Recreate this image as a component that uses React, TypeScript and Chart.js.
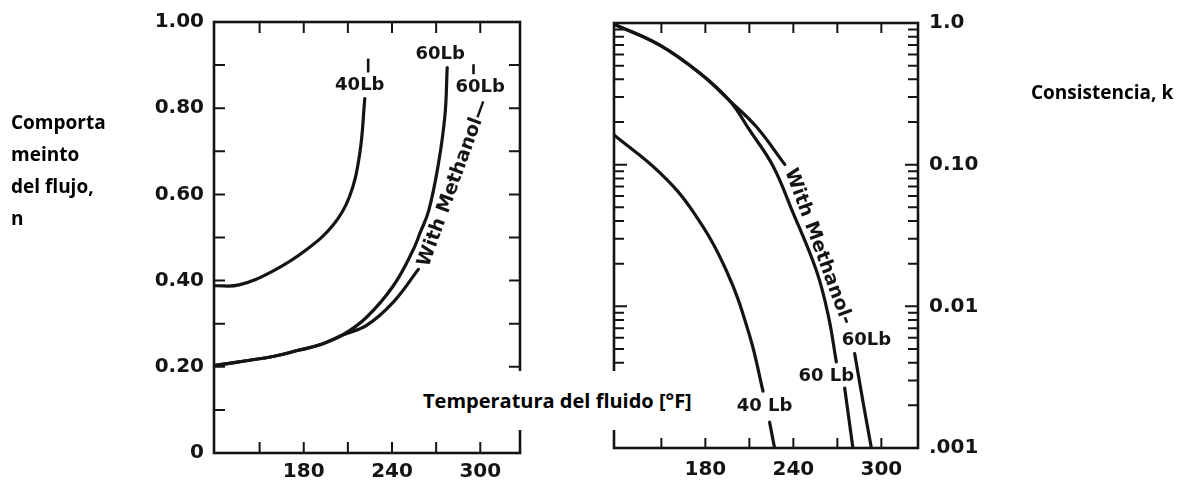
import React, { useEffect, useRef } from "react";
import { Chart, registerables } from "chart.js";

Chart.register(...registerables);

// ---------- Left panel: flow behaviour index n vs temperature ----------
const leftT40 = [119, 136, 159, 182, 200, 211, 218, 221.5];
const leftN40 = [0.388, 0.39, 0.422, 0.472, 0.529, 0.594, 0.693, 0.822];

const leftT60 = [119, 159, 177, 191, 206.5, 222.7, 240.9, 254.5, 259, 265, 271.5, 276, 277.5];
const leftN60 = [0.203, 0.224, 0.239, 0.251, 0.274, 0.315, 0.388, 0.472, 0.51, 0.563, 0.67, 0.784, 0.894];

const leftTMeth = [119, 159, 177, 191, 206.5, 222.7, 240.9, 257.9];
const leftNMeth = [0.203, 0.224, 0.239, 0.251, 0.274, 0.296, 0.35, 0.426];

const leftLead40T = [223.8, 223.8];
const leftLead40N = [0.883, 0.915];
const leftLeadMethT = [295.4, 295.4];
const leftLeadMethN = [0.879, 0.902];

const nTickValues = [0, 0.2, 0.4, 0.6, 0.8, 1.0];
const nTickLabels = ["0", "0.20", "0.40", "0.60", "0.80", "1.00"];
const nMinorTicks = [0.1, 0.2, 0.3, 0.4, 0.5, 0.6, 0.7, 0.8, 0.9];

// ---------- Right panel: consistency index k vs temperature ----------
const rightT40a = [117.7, 148.9, 171.6, 194.3, 210.2, 219.3];
const rightK40a = [0.162, 0.0879, 0.0466, 0.0179, 0.0062, 0.00252];
const rightT40b = [223.8, 227.2];
const rightK40b = [0.00152, 0.001];

const rightT60a = [117.7, 148.9, 176.1, 196.5, 210.2, 226.1, 238.6, 255.7, 263.9, 269.3];
const rightK60a = [0.98, 0.697, 0.443, 0.283, 0.175, 0.098, 0.049, 0.0179, 0.00853, 0.00405];
const rightT60b = [275, 280.6];
const rightK60b = [0.00265, 0.001];

const rightTMethA = [117.7, 148.9, 176.1, 196.5, 214.8, 234.1];
const rightKMethA = [0.98, 0.697, 0.443, 0.283, 0.185, 0.1005];
const rightTMethB = [281.8, 287.4, 293.2];
const rightKMethB = [0.00464, 0.00215, 0.001];

const kTickValues = [0.001, 0.01, 0.1, 1.0];
const kTickLabels = [".001", "0.01", "0.10", "1.0"];

// ---------- shared temperature axis ----------
const tempTickValues = [180, 240, 300];
const tempTickLabels = ["180", "240", "300"];
const tempMinorTicks = [150, 180, 210, 240, 270, 300];

const INK = "#141414";
const TICK_FONT = { family: '"DejaVu Sans", sans-serif', size: 20, weight: "bold" as const };

const pts = (xs: number[], ys: number[]) => xs.map((x, i) => ({ x, y: ys[i] }));

const curve = (xs: number[], ys: number[]) => ({
  data: pts(xs, ys),
  borderColor: INK,
  borderWidth: 3.2,
  pointRadius: 0,
  fill: false,
  tension: 0.4,
  borderCapStyle: "round" as const,
});

const leader = (xs: number[], ys: number[]) => ({
  data: pts(xs, ys),
  borderColor: INK,
  borderWidth: 2.6,
  pointRadius: 0,
  fill: false,
  tension: 0,
});

const framePlugin = {
  id: "frame",
  afterDatasetsDraw(chart: any, _args: any, opts: any) {
    const { ctx, chartArea: a, scales } = chart;
    ctx.save();
    ctx.strokeStyle = INK;
    ctx.lineWidth = 2.6;
    ctx.strokeRect(a.left, a.top, a.right - a.left, a.bottom - a.top);
    ctx.lineWidth = 2;
    const len = opts.len || 10;
    for (const v of opts.xTicks || []) {
      const px = scales.x.getPixelForValue(v);
      ctx.beginPath();
      ctx.moveTo(px, a.bottom);
      ctx.lineTo(px, a.bottom - len);
      ctx.moveTo(px, a.top);
      ctx.lineTo(px, a.top + len);
      ctx.stroke();
    }
    for (const v of opts.yTicks || []) {
      const py = scales.y.getPixelForValue(v);
      const l = (opts.yMajor || []).includes(v) ? len + 3 : len;
      ctx.beginPath();
      ctx.moveTo(a.left, py);
      ctx.lineTo(a.left + l, py);
      ctx.moveTo(a.right, py);
      ctx.lineTo(a.right - l, py);
      ctx.stroke();
    }
    ctx.restore();
  },
};

const labelPlugin = {
  id: "curveLabels",
  afterDatasetsDraw(chart: any, _args: any, opts: any) {
    const { ctx, scales } = chart;
    ctx.save();
    ctx.fillStyle = INK;
    for (const l of opts.items || []) {
      const px = scales.x.getPixelForValue(l.x);
      const py = scales.y.getPixelForValue(l.y);
      ctx.save();
      ctx.translate(px, py);
      if (l.rot) ctx.rotate((l.rot * Math.PI) / 180);
      ctx.font = `bold ${l.size || 18}px "DejaVu Sans", sans-serif`;
      ctx.textAlign = l.align || "center";
      ctx.textBaseline = "middle";
      ctx.fillText(l.text, 0, 0);
      ctx.restore();
    }
    ctx.restore();
  },
};

const leftLabels = [
  { text: "40Lb", x: 218.1, y: 0.853 },
  { text: "60Lb", x: 272.7, y: 0.926 },
  { text: "60Lb", x: 299.9, y: 0.848 },
  { text: "With Methanol—", x: 261.5, y: 0.434, rot: -70, align: "left", size: 19 },
];

const rightLabels = [
  { text: "With Methanol-", x: 237.5, y: 0.0929, rot: 69.7, align: "left", size: 19 },
  { text: "60Lb", x: 289.8, y: 0.00573 },
  { text: "60 Lb", x: 262.5, y: 0.0032 },
  { text: "40 Lb", x: 220.4, y: 0.00198 },
];

const logMinor = [0.001, 0.01, 0.1].flatMap((d) => [1, 2, 3, 4, 5, 6, 7, 8, 9].map((m) => m * d)).filter((v) => v > 0.001);

export default function App() {
  const leftRef = useRef<HTMLCanvasElement>(null);
  const rightRef = useRef<HTMLCanvasElement>(null);

  useEffect(() => {
    const left = new Chart(leftRef.current!, {
      type: "line",
      data: {
        datasets: [
          curve(leftT40, leftN40),
          curve(leftT60, leftN60),
          curve(leftTMeth, leftNMeth),
          leader(leftLead40T, leftLead40N),
          leader(leftLeadMethT, leftLeadMethN),
        ],
      },
      options: {
        responsive: false,
        animation: false,
        events: [],
        layout: { padding: { left: 0, top: 15, right: 40, bottom: 0 } },
        plugins: {
          legend: { display: false },
          tooltip: { enabled: false },
          frame: { xTicks: tempMinorTicks, yTicks: nMinorTicks, len: 11 },
          curveLabels: { items: leftLabels },
        } as any,
        scales: {
          x: {
            type: "linear",
            min: 119,
            max: 327,
            grid: { display: false, drawTicks: false },
            border: { display: false },
            afterFit: (s: any) => { s.height = 30; },
            afterBuildTicks: (s: any) => { s.ticks = tempTickValues.map((v) => ({ value: v })); },
            ticks: {
              padding: 7,
              color: INK,
              font: TICK_FONT,
              maxRotation: 0,
              callback: (v: any) => tempTickLabels[tempTickValues.indexOf(Number(v))] ?? "",
            },
          },
          y: {
            type: "linear",
            min: 0,
            max: 1,
            grid: { display: false, drawTicks: false },
            border: { display: false },
            afterFit: (s: any) => { s.width = 214; },
            afterBuildTicks: (s: any) => { s.ticks = nTickValues.map((v) => ({ value: v })); },
            ticks: {
              padding: 10,
              color: INK,
              font: TICK_FONT,
              callback: (v: any) => nTickLabels[nTickValues.findIndex((t) => Math.abs(t - Number(v)) < 1e-9)] ?? "",
            },
          },
        },
      },
      plugins: [framePlugin, labelPlugin],
    });

    const right = new Chart(rightRef.current!, {
      type: "line",
      data: {
        datasets: [
          curve(rightT40a, rightK40a),
          curve(rightT40b, rightK40b),
          curve(rightT60a, rightK60a),
          curve(rightT60b, rightK60b),
          curve(rightTMethA, rightKMethA),
          curve(rightTMethB, rightKMethB),
        ],
      },
      options: {
        responsive: false,
        animation: false,
        events: [],
        layout: { padding: { left: 54, top: 14, right: 0, bottom: 0 } },
        plugins: {
          legend: { display: false },
          tooltip: { enabled: false },
          frame: { xTicks: tempMinorTicks, yTicks: logMinor, yMajor: [0.01, 0.1], len: 10 },
          curveLabels: { items: rightLabels },
        } as any,
        scales: {
          x: {
            type: "linear",
            min: 117.7,
            max: 325,
            grid: { display: false, drawTicks: false },
            border: { display: false },
            afterFit: (s: any) => { s.height = 35; },
            afterBuildTicks: (s: any) => { s.ticks = tempTickValues.map((v) => ({ value: v })); },
            ticks: {
              padding: 10,
              color: INK,
              font: TICK_FONT,
              maxRotation: 0,
              callback: (v: any) => tempTickLabels[tempTickValues.indexOf(Number(v))] ?? "",
            },
          },
          y: {
            type: "logarithmic",
            position: "right",
            min: 0.001,
            max: 1,
            grid: { display: false, drawTicks: false },
            border: { display: false },
            afterFit: (s: any) => { s.width = 268; },
            afterBuildTicks: (s: any) => { s.ticks = kTickValues.map((v) => ({ value: v })); },
            ticks: {
              padding: 11,
              color: INK,
              font: TICK_FONT,
              callback: (v: any) => kTickLabels[kTickValues.findIndex((t) => Math.abs(t - Number(v)) / t < 1e-6)] ?? "",
            },
          },
        },
      },
      plugins: [framePlugin, labelPlugin],
    });

    return () => {
      left.destroy();
      right.destroy();
    };
  }, []);

  const boldText: React.CSSProperties = {
    position: "absolute",
    fontFamily: '"Open Sans", sans-serif',
    fontWeight: 700,
    fontSize: 19,
    color: "#000",
    whiteSpace: "pre",
  };

  return (
    <div style={{ position: "fixed", left: 0, top: 0, width: 1186, height: 483, background: "#fff", overflow: "hidden" }}>
      <canvas ref={leftRef} width={560} height={483} style={{ position: "absolute", left: 0, top: 0 }} />
      <canvas ref={rightRef} width={626} height={483} style={{ position: "absolute", left: 560, top: 0 }} />
      <div style={{ ...boldText, left: 11, top: 106, lineHeight: "32px" }}>
        {"Comporta\nmeinto\ndel flujo,\nn"}
      </div>
      <div style={{ ...boldText, left: 1031, top: 76, lineHeight: "32px" }}>Consistencia, k</div>
      <div
        style={{
          ...boldText,
          fontSize: 20,
          left: 418,
          top: 371,
          width: 280,
          height: 59,
          background: "#fff",
          lineHeight: "59px",
          paddingLeft: 5,
          boxSizing: "border-box",
        }}
      >
        Temperatura del fluido [°F]
      </div>
    </div>
  );
}
